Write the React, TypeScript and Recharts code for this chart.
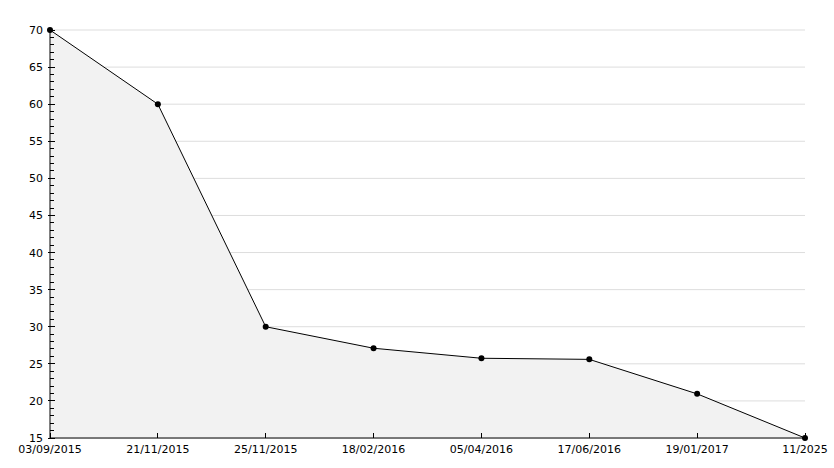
import React from "react";
import {
  AreaChart,
  Area,
  XAxis,
  YAxis,
  CartesianGrid,
} from "recharts";

const dates = [
  "03/09/2015",
  "21/11/2015",
  "25/11/2015",
  "18/02/2016",
  "05/04/2016",
  "17/06/2016",
  "19/01/2017",
  "11/2025",
];
const values = [70, 60, 30, 27.1, 25.75, 25.6, 20.95, 15];
const majorTicks = [15, 20, 25, 30, 35, 40, 45, 50, 55, 60, 65, 70];
// every unit gets a small tick, labels only on multiples of 5
const yTicks = Array.from({ length: 56 }, (_, i) => 15 + i);

const data = dates.map((d, i) => ({ date: d, value: values[i] }));

const FONT = "DejaVu Sans, Verdana, sans-serif";

function YTick(props: any) {
  const { x, y, payload } = props;
  const v = payload.value;
  const major = v % 5 === 0;
  return (
    <g>
      <line
        x1={major ? x - 2 : x}
        x2={major ? x + 5 : x + 4}
        y1={y}
        y2={y}
        stroke="#000"
        shapeRendering="crispEdges"
      />
      {major && (
        <text
          x={x - 7}
          y={y}
          dy={4}
          textAnchor="end"
          fontSize={11}
          fontFamily={FONT}
          fill="#000"
        >
          {v}
        </text>
      )}
    </g>
  );
}

function XTick(props: any) {
  const { x, y, payload } = props;
  return (
    <g>
      <line x1={x} x2={x} y1={y} y2={y - 5} stroke="#000" shapeRendering="crispEdges" />
      <text
        x={x}
        y={y + 15}
        textAnchor="middle"
        fontSize={11}
        fontFamily={FONT}
        fill="#000"
      >
        {payload.value}
      </text>
    </g>
  );
}

export default function App() {
  return (
    <div style={{ position: "absolute", left: 0, top: 0, background: "#fff" }}>
      <AreaChart
        width={834}
        height={468}
        data={data}
        margin={{ top: 30, right: 29, bottom: 0, left: 0 }}
      >
        <CartesianGrid
          horizontal
          vertical={false}
          stroke="#dddddd"
          horizontalValues={majorTicks}
        />
        <XAxis
          dataKey="date"
          interval={0}
          tick={<XTick />}
          tickLine={false}
          tickSize={0}
          tickMargin={0}
          stroke="#000"
          height={30}
        />
        <YAxis
          domain={[15, 70]}
          ticks={yTicks}
          type="number"
          tick={<YTick />}
          tickLine={false}
          tickSize={0}
          tickMargin={0}
          stroke="#000"
          width={50}
          interval={0}
        />
        <Area
          type="linear"
          dataKey="value"
          stroke="#000"
          strokeWidth={1}
          fill="#f2f2f2"
          fillOpacity={1}
          dot={{ r: 3, fill: "#000", stroke: "none" }}
          activeDot={false}
          isAnimationActive={false}
        />
      </AreaChart>
    </div>
  );
}
